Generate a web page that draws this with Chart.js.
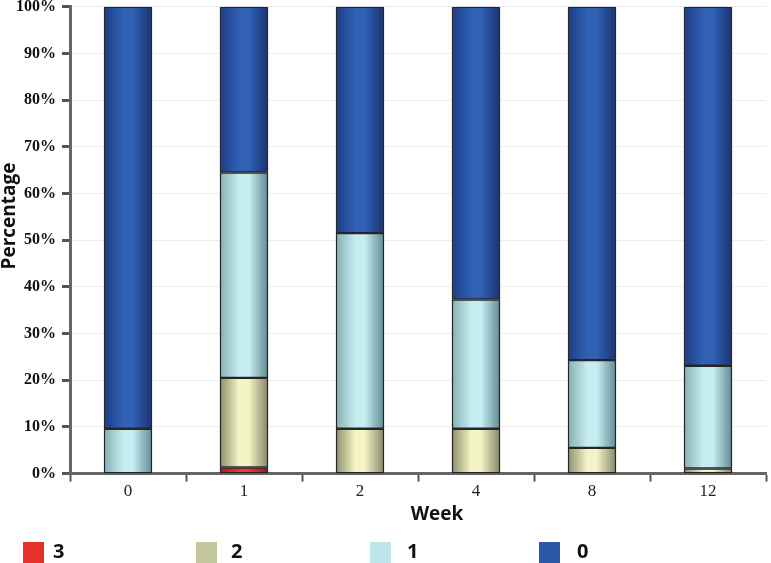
<!DOCTYPE html>
<html>
<head>
<meta charset="utf-8">
<script src="https://cdn.jsdelivr.net/npm/chart.js@4"></script>
<style>
  html, body { margin: 0; padding: 0; background: #fff; }
  #wrap { width: 771px; height: 563px; position: relative; }
</style>
</head>
<body>
<div id="wrap"><canvas id="chart"></canvas></div>
<script>
// Week labels and share of each score (%)
const weeks = ['0', '1', '2', '4', '8', '12'];
const score3 = [0, 1.3, 0, 0, 0, 0];
const score2 = [0, 19.2, 9.6, 9.6, 5.5, 1.1];
const score1 = [9.6, 44.0, 41.9, 27.7, 18.8, 22.0];
const score0 = [90.4, 35.5, 48.5, 62.7, 75.7, 76.9];
const yTicks = [0, 10, 20, 30, 40, 50, 60, 70, 80, 90, 100];

const BAR_W = 48;

// shaded "cylinder" look: dark edge, light middle, darker right edge
function cylinder(flat, left, mid, right) {
    return function(c) {
        if (c.type !== 'data') return flat;
        const xs = c.chart.scales.x;
        if (!xs) return flat;
        const cx = xs.getPixelForValue(c.dataIndex);
        if (!isFinite(cx)) return flat;
        const g = c.chart.ctx.createLinearGradient(cx - BAR_W / 2, 0, cx + BAR_W / 2, 0);
        g.addColorStop(0, left);
        g.addColorStop(0.4, mid);
        g.addColorStop(0.6, mid);
        g.addColorStop(1, right);
        return g;
    };
}

const series = [
    { label: '3', data: score3, flat: '#e8302a', fill: cylinder('#e8302a', '#a81c16', '#ee3a30', '#9a1812') },
    { label: '2', data: score2, flat: '#c4c69e', fill: cylinder('#c4c69e', '#8e906a', '#f4f4c6', '#86876a') },
    { label: '1', data: score1, flat: '#bde5ea', fill: cylinder('#bde5ea', '#85b0b4', '#c6edf1', '#5f8d92') },
    { label: '0', data: score0, flat: '#2b58a9', fill: cylinder('#2b58a9', '#1d3d86', '#3061b4', '#1a3271') }
];

// axis titles + legend, placed where the original has them
const extras = {
    id: 'extras',
    afterDraw(chart) {
        const ctx = chart.ctx;
        ctx.save();
        ctx.fillStyle = '#111';
        ctx.font = 'bold 19px "Open Sans", sans-serif';
        ctx.textAlign = 'center';
        ctx.textBaseline = 'middle';
        ctx.fillText('Week', 437, 515);
        ctx.save();
        ctx.translate(10, 216);
        ctx.rotate(-Math.PI / 2);
        ctx.fillText('Percentage', 0, 0);
        ctx.restore();

        const boxX = [23, 196, 370, 539];
        const txtX = [53, 231, 407, 577];
        ctx.font = 'bold 20px "Open Sans", sans-serif';
        ctx.textAlign = 'left';
        series.forEach(function(s, i) {
            ctx.fillStyle = s.flat;
            ctx.fillRect(boxX[i], 542, 21, 22);
            ctx.fillStyle = '#111';
            ctx.fillText(s.label, txtX[i], 552);
        });
        ctx.restore();
    }
};

new Chart(document.getElementById('chart'), {
    type: 'bar',
    data: {
        labels: weeks,
        datasets: series.map(function(s) {
            return {
                label: s.label,
                data: s.data,
                backgroundColor: s.fill,
                borderColor: '#262626',
                borderWidth: 1.5,
                borderSkipped: false,
                barThickness: BAR_W
            };
        })
    },
    options: {
        responsive: true,
        maintainAspectRatio: false,
        animation: false,
        layout: { padding: { top: 0, right: 5, bottom: 61, left: 10 } },
        plugins: {
            legend: { display: false },
            tooltip: { enabled: false }
        },
        scales: {
            x: {
                stacked: true,
                grid: {
                    drawOnChartArea: false,
                    tickLength: 8,
                    tickColor: '#555',
                    tickWidth: 2
                },
                border: { color: '#666', width: 3 },
                ticks: {
                    color: '#222',
                    font: { family: '"Liberation Serif", serif', size: 17 },
                    padding: 0
                }
            },
            y: {
                stacked: true,
                min: 0,
                max: 100,
                afterBuildTicks: function(axis) {
                    axis.ticks = yTicks.map(function(v) { return { value: v }; });
                },
                grid: {
                    color: '#ececec',
                    tickLength: 8,
                    tickColor: '#555',
                    tickWidth: 3
                },
                border: { color: '#666', width: 3 },
                ticks: {
                    color: '#111',
                    font: { family: '"Liberation Serif", serif', size: 16, weight: 'bold', lineHeight: 0.1 },
                    padding: 6,
                    callback: function(v) { return v + '%'; }
                }
            }
        }
    },
    plugins: [extras]
});
</script>
</body>
</html>
